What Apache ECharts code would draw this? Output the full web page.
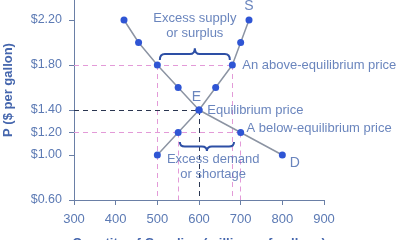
<!DOCTYPE html>
<html><head><meta charset="utf-8">
<script src="https://cdn.jsdelivr.net/npm/echarts@6/dist/echarts.min.js"></script>
<style>html,body{margin:0;padding:0;background:#fff}#c{width:400px;height:240px}</style>
</head><body><div id="c"></div>
<script>
const quantityTicks = [300, 400, 500, 600, 700, 800, 900];
const priceTicks = [0.6, 1.0, 1.2, 1.4, 1.8, 2.2];
const demandQty = [420, 455, 500, 550, 600, 700, 800];
const demandPrice = [2.2, 2.0, 1.8, 1.6, 1.4, 1.2, 1.0];
const supplyQty = [500, 550, 600, 640, 680, 700, 720];
const supplyPrice = [1.0, 1.2, 1.4, 1.6, 1.8, 2.0, 2.2];
const surplusPrice = 1.8, surplusQd = 500, surplusQs = 680;
const shortagePrice = 1.2, shortageQs = 550, shortageQd = 700;
const eqPrice = 1.4, eqQty = 600;

const textBlue = '#4566ad';
const pink = '#e39ad8';
const font = '"Liberation Sans", Arial, sans-serif';

const chart = echarts.init(document.getElementById('c'), null, {renderer: 'canvas'});

function braceItem() {
  return function (params, api) {
    const p1 = api.coord([api.value(0), api.value(2)]);
    const p2 = api.coord([api.value(1), api.value(2)]);
    const pt = api.coord([api.value(0), api.value(3)]);
    const x1 = p1[0], x2 = p2[0], yE = p1[1], yT = pt[1];
    const yM = (yE + yT) / 2, xc = (x1 + x2) / 2, r = 5;
    const d = `M${x1},${yE} Q${x1},${yM} ${x1 + r},${yM} L${xc - r},${yM} Q${xc},${yM} ${xc},${yT} Q${xc},${yM} ${xc + r},${yM} L${x2 - r},${yM} Q${x2},${yM} ${x2},${yE}`;
    return {type: 'path', shape: {pathData: d}, style: {fill: null, stroke: '#2d4fa5', lineWidth: 2}};
  };
}

function lbl(coord, text, align, extra) {
  return {value: coord, label: Object.assign({show: true, formatter: text, align: align, verticalAlign: 'middle', position: 'inside', color: textBlue, fontSize: 13, fontFamily: font}, extra || {})};
}

chart.setOption({
  animation: false,
  grid: {left: 74, right: 76, top: 0, bottom: 40, outerBoundsMode: 'none', containLabel: false},
  xAxis: {
    type: 'value', min: 300, max: 900, interval: 100,
    axisLine: {lineStyle: {color: '#6a7fa6', width: 1}},
    axisTick: {show: true, length: 5, lineStyle: {color: '#6a7fa6'}},
    axisLabel: {color: '#5c7ab4', fontSize: 13, fontFamily: font, margin: 13},
    splitLine: {show: false},
    name: 'Quantity of Gasoline (millions of gallons)', nameLocation: 'middle', nameGap: 37,
    nameTextStyle: {color: textBlue, fontSize: 13, fontWeight: 'bold', fontFamily: font}
  },
  yAxis: {
    type: 'value', min: 0.6, max: 2.378,
    axisLine: {show: true, lineStyle: {color: '#6a7fa6', width: 1}},
    axisTick: {show: true, length: 5, customValues: priceTicks, lineStyle: {color: '#6a7fa6'}},
    axisLabel: {customValues: priceTicks, color: '#5c7ab4', fontSize: 12.5, fontFamily: font, margin: 12,
      formatter: v => '$' + v.toFixed(2)},
    splitLine: {show: false}
  },
  graphic: [{
    type: 'text', x: 8, y: 90, rotation: Math.PI / 2,
    style: {text: 'P ($ per gallon)', fill: textBlue, font: 'bold 13px ' + font, align: 'center', verticalAlign: 'middle'}
  }],
  series: [
    {
      type: 'line', data: [], silent: true,
      markLine: {
        silent: true, symbol: 'none', label: {show: false},
        lineStyle: {color: pink, type: [5, 4], width: 1},
        data: [
          [{coord: [300, surplusPrice]}, {coord: [surplusQs, surplusPrice]}],
          [{coord: [300, shortagePrice]}, {coord: [shortageQd, shortagePrice]}],
          [{coord: [surplusQd, surplusPrice]}, {coord: [surplusQd, 0.6]}],
          [{coord: [surplusQs, surplusPrice]}, {coord: [surplusQs, 0.6]}],
          [{coord: [shortageQs, shortagePrice]}, {coord: [shortageQs, 0.6]}],
          [{coord: [shortageQd, shortagePrice]}, {coord: [shortageQd, 0.6]}],
          [{coord: [300, eqPrice]}, {coord: [eqQty, eqPrice]}],
          [{coord: [eqQty, eqPrice]}, {coord: [eqQty, 0.6]}]
        ].map((d, i) => i >= 6 ? [Object.assign(d[0], {lineStyle: {color: '#2a3550', type: [5, 4], width: 1}}), d[1]] : d)
      }
    },
    {
      type: 'line', name: 'Demand', data: demandQty.map((q, i) => [q, demandPrice[i]]),
      lineStyle: {color: '#8c94a3', width: 1.5}, symbol: 'circle', symbolSize: 7,
      itemStyle: {color: '#2f55d4'}, z: 5
    },
    {
      type: 'line', name: 'Supply', data: supplyQty.map((q, i) => [q, supplyPrice[i]]),
      lineStyle: {color: '#8c94a3', width: 1.5}, symbol: 'circle', symbolSize: 7,
      itemStyle: {color: '#2f55d4'}, z: 5
    },
    {
      type: 'custom', renderItem: braceItem(), z: 6,
      dimensions: ['x1', 'x2', 'yEnd', 'yTip'], encode: {x: [0, 1], y: [2, 3]},
      data: [[506, 674, 1.845, 1.95], [554, 684, 1.115, 1.035]]
    },
    {
      type: 'scatter', symbolSize: 0, z: 7, silent: true,
      data: [
        lbl([720, 2.32], 'S', 'center', {fontSize: 14}),
        lbl([830, 0.93], 'D', 'center', {fontSize: 14}),
        lbl([594, 1.515], 'E', 'center', {fontSize: 14}),
        lbl([620, 1.40], 'Equilibrium price', 'left'),
        lbl([704, 1.80], 'An above-equilibrium price', 'left'),
        lbl([714, 1.24], 'A below-equilibrium price', 'left'),
        lbl([590, 2.145], 'Excess supply\nor surplus', 'center', {lineHeight: 15}),
        lbl([634, 0.89], 'Excess demand\nor shortage', 'center', {lineHeight: 15})
      ]
    }
  ]
});
</script></body></html>
